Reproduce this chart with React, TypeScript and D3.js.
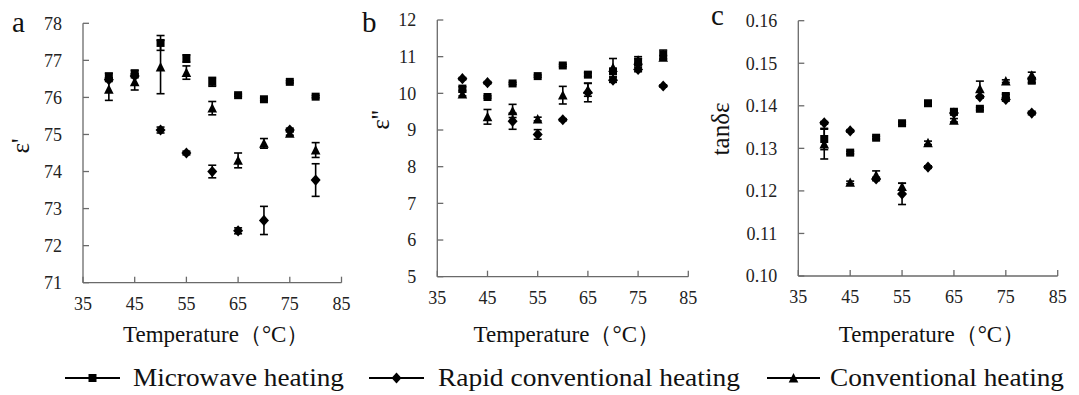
import React from "react";
import * as d3 from "d3";

const temps = [40, 45, 50, 55, 60, 65, 70, 75, 80];
const xTicks = [35, 45, 55, 65, 75, 85];

// Panel a: ε'
const aMicro = [76.57, 76.65, 77.47, 77.05, 76.42, 76.06, 75.95, 76.42, 76.02];
const aMicroErr = [0.08, 0.08, 0.2, 0.1, 0.12, 0.03, 0.03, 0.03, 0.03];
const aRapid = [76.48, 76.58, 75.12, 74.5, 74.0, 72.4, 72.68, 75.12, 73.77];
const aRapidErr = [0.05, 0.05, 0.08, 0.05, 0.17, 0.08, 0.38, 0.05, 0.44];
const aConv = [76.22, 76.42, 76.82, 76.67, 75.71, 74.3, 74.76, 75.03, 74.58];
const aConvErr = [0.3, 0.22, 0.72, 0.18, 0.18, 0.2, 0.13, 0.05, 0.2];
const aTicks = [71, 72, 73, 74, 75, 76, 77, 78];

// Panel b: ε''
const bMicro = [10.13, 9.9, 10.27, 10.47, 10.76, 10.51, 10.6, 10.85, 11.06];
const bMicroErr = [0.05, 0.03, 0.03, 0.03, 0.03, 0.05, 0.05, 0.1, 0.12];
const bRapid = [10.4, 10.29, 9.24, 8.88, 9.28, 10.02, 10.36, 10.65, 10.2];
const bRapidErr = [0.03, 0.03, 0.22, 0.13, 0.03, 0.25, 0.06, 0.06, 0.03];
const bConv = [9.98, 9.36, 9.52, 9.3, 9.95, 10.1, 10.7, 10.9, 10.98];
const bConvErr = [0.05, 0.2, 0.18, 0.05, 0.24, 0.18, 0.25, 0.1, 0.05];
const bTicks = [5, 6, 7, 8, 9, 10, 11, 12];

// Panel c: tanδε
const cMicro = [0.1322, 0.129, 0.1325, 0.1359, 0.1406, 0.1386, 0.1393, 0.1423, 0.1459];
const cMicroErr = [0.0025, 0.0003, 0.0003, 0.0003, 0.0003, 0.0004, 0.0003, 0.0004, 0.0005];
const cRapid = [0.136, 0.1341, 0.1228, 0.1193, 0.1256, 0.1383, 0.1421, 0.1415, 0.1383];
const cRapidErr = [0.0003, 0.0003, 0.0004, 0.0025, 0.0003, 0.0004, 0.0003, 0.0004, 0.0004];
const cConv = [0.131, 0.122, 0.1237, 0.121, 0.1313, 0.1366, 0.144, 0.1458, 0.1472];
const cConvErr = [0.0035, 0.0003, 0.001, 0.0008, 0.0004, 0.0004, 0.0018, 0.0003, 0.0007];
const cTicks = [0.1, 0.11, 0.12, 0.13, 0.14, 0.15, 0.16];

const seriesNames = ["Microwave heating", "Rapid conventional heating", "Conventional heating"];
const shapes = ["square", "diamond", "triangle"];

const FONT = "Liberation Serif, Times New Roman, serif";
const AXIS = "#6a6a6a";

function markerPath(shape: string, x: number, y: number): string {
  if (shape === "square") {
    const s = 4;
    return `M${x - s},${y - s}H${x + s}V${y + s}H${x - s}Z`;
  }
  if (shape === "diamond") {
    const w = 5, h = 5.6;
    return `M${x},${y - h}L${x + w},${y}L${x},${y + h}L${x - w},${y}Z`;
  }
  const w = 4.8, h = 4.4;
  return `M${x},${y - h - 0.6}L${x + w},${y + h}L${x - w},${y + h}Z`;
}

type Panel = {
  letter: string;
  letterX: number;
  letterY: number;
  x0: number;
  x1: number;
  yTop: number;
  yBot: number;
  domain: [number, number];
  ticks: number[];
  fmt: (v: number) => string;
  series: { vals: number[]; errs: number[] }[];
  ylabel: string;
  ylabelX: number;
  ylabelY: number;
};

const panels: Panel[] = [
  {
    letter: "a", letterX: 12, letterY: 32,
    x0: 83, x1: 341.5, yTop: 23.3, yBot: 282.7, domain: [71, 78], ticks: aTicks,
    fmt: (v) => d3.format("d")(v),
    series: [
      { vals: aMicro, errs: aMicroErr },
      { vals: aRapid, errs: aRapidErr },
      { vals: aConv, errs: aConvErr },
    ],
    ylabel: "ε'", ylabelX: 29, ylabelY: 146,
  },
  {
    letter: "b", letterX: 362, letterY: 32,
    x0: 437.3, x1: 688.3, yTop: 20, yBot: 276.7, domain: [5, 12], ticks: bTicks,
    fmt: (v) => d3.format("d")(v),
    series: [
      { vals: bMicro, errs: bMicroErr },
      { vals: bRapid, errs: bRapidErr },
      { vals: bConv, errs: bConvErr },
    ],
    ylabel: "ε''", ylabelX: 389, ylabelY: 120,
  },
  {
    letter: "c", letterX: 711, letterY: 25,
    x0: 798.3, x1: 1057.7, yTop: 20.7, yBot: 276, domain: [0.1, 0.16], ticks: cTicks,
    fmt: (v) => d3.format(".2f")(v),
    series: [
      { vals: cMicro, errs: cMicroErr },
      { vals: cRapid, errs: cRapidErr },
      { vals: cConv, errs: cConvErr },
    ],
    ylabel: "tanδε", ylabelX: 729, ylabelY: 129,
  },
];

function PanelView({ p }: { p: Panel }) {
  const x = d3.scaleLinear().domain([35, 85]).range([p.x0, p.x1]);
  const y = d3.scaleLinear().domain(p.domain).range([p.yBot, p.yTop]);
  const cx = (p.x0 + p.x1) / 2 + 4;
  return (
    <g>
      <text x={p.letterX} y={p.letterY} fontSize={29} fontFamily={FONT} fill="#111">
        {p.letter}
      </text>
      <line x1={p.x0} x2={p.x0} y1={p.yTop} y2={p.yBot} stroke={AXIS} strokeWidth={1.3} />
      <line x1={p.x0} x2={p.x1} y1={p.yBot} y2={p.yBot} stroke={AXIS} strokeWidth={1.3} />
      {p.ticks.map((t) => (
        <g key={"y" + t}>
          <line x1={p.x0} x2={p.x0 + 6} y1={y(t)} y2={y(t)} stroke={AXIS} strokeWidth={1.3} />
          <text
            x={p.x0 - 21}
            y={y(t)}
            dy="0.35em"
            textAnchor="end"
            fontSize={18}
            fontFamily={FONT}
            fill="#222"
          >
            {p.fmt(t)}
          </text>
        </g>
      ))}
      {xTicks.map((t) => (
        <g key={"x" + t}>
          <line x1={x(t)} x2={x(t)} y1={p.yBot} y2={p.yBot - 6} stroke={AXIS} strokeWidth={1.3} />
          <text
            x={x(t)}
            y={p.yBot + 27}
            textAnchor="middle"
            fontSize={18}
            fontFamily={FONT}
            fill="#222"
          >
            {t}
          </text>
        </g>
      ))}
      <text
        x={cx}
        y={342}
        textAnchor="middle"
        fontSize={23}
        fontFamily={FONT}
        fill="#111"
      >
        Temperature（°C）
      </text>
      <text
        transform={`translate(${p.ylabelX},${p.ylabelY}) rotate(-90)`}
        textAnchor="middle"
        fontSize={25}
        fontFamily={FONT}
        fill="#111"
      >
        {p.ylabel}
      </text>
      {p.series.map((s, si) =>
        s.vals.map((v, i) => {
          const e = s.errs[i];
          const px = x(temps[i]);
          const yt = y(v + e);
          const yb = y(v - e);
          return (
            <g key={`e${si}-${i}`} stroke="#000" strokeWidth={1.6}>
              <line x1={px} x2={px} y1={yt} y2={yb} />
              <line x1={px - 4} x2={px + 4} y1={yt} y2={yt} />
              <line x1={px - 4} x2={px + 4} y1={yb} y2={yb} />
            </g>
          );
        })
      )}
      {p.series.map((s, si) =>
        s.vals.map((v, i) => (
          <path key={`m${si}-${i}`} d={markerPath(shapes[si], x(temps[i]), y(v))} fill="#000" />
        ))
      )}
    </g>
  );
}

const legendItems = [
  { x1: 65, x2: 120, tx: 133, tw: 211 },
  { x1: 369, x2: 424, tx: 438, tw: 302 },
  { x1: 767, x2: 820, tx: 830, tw: 234 },
];

export default function App() {
  const ly = 378;
  return (
    <svg
      width={1079}
      height={395}
      style={{ position: "absolute", left: 0, top: 0, background: "#fff" }}
    >
      <rect width={1079} height={395} fill="#fff" />
      {panels.map((p) => (
        <PanelView key={p.letter} p={p} />
      ))}
      {legendItems.map((li, i) => (
        <g key={i}>
          <line x1={li.x1} x2={li.x2} y1={ly} y2={ly} stroke="#000" strokeWidth={2} />
          <path d={markerPath(shapes[i], (li.x1 + li.x2) / 2, ly)} fill="#000" />
          <text
            x={li.tx}
            y={ly + 8}
            fontSize={25}
            fontFamily={FONT}
            fill="#111"
            textLength={li.tw}
            lengthAdjust="spacingAndGlyphs"
          >
            {seriesNames[i]}
          </text>
        </g>
      ))}
    </svg>
  );
}
